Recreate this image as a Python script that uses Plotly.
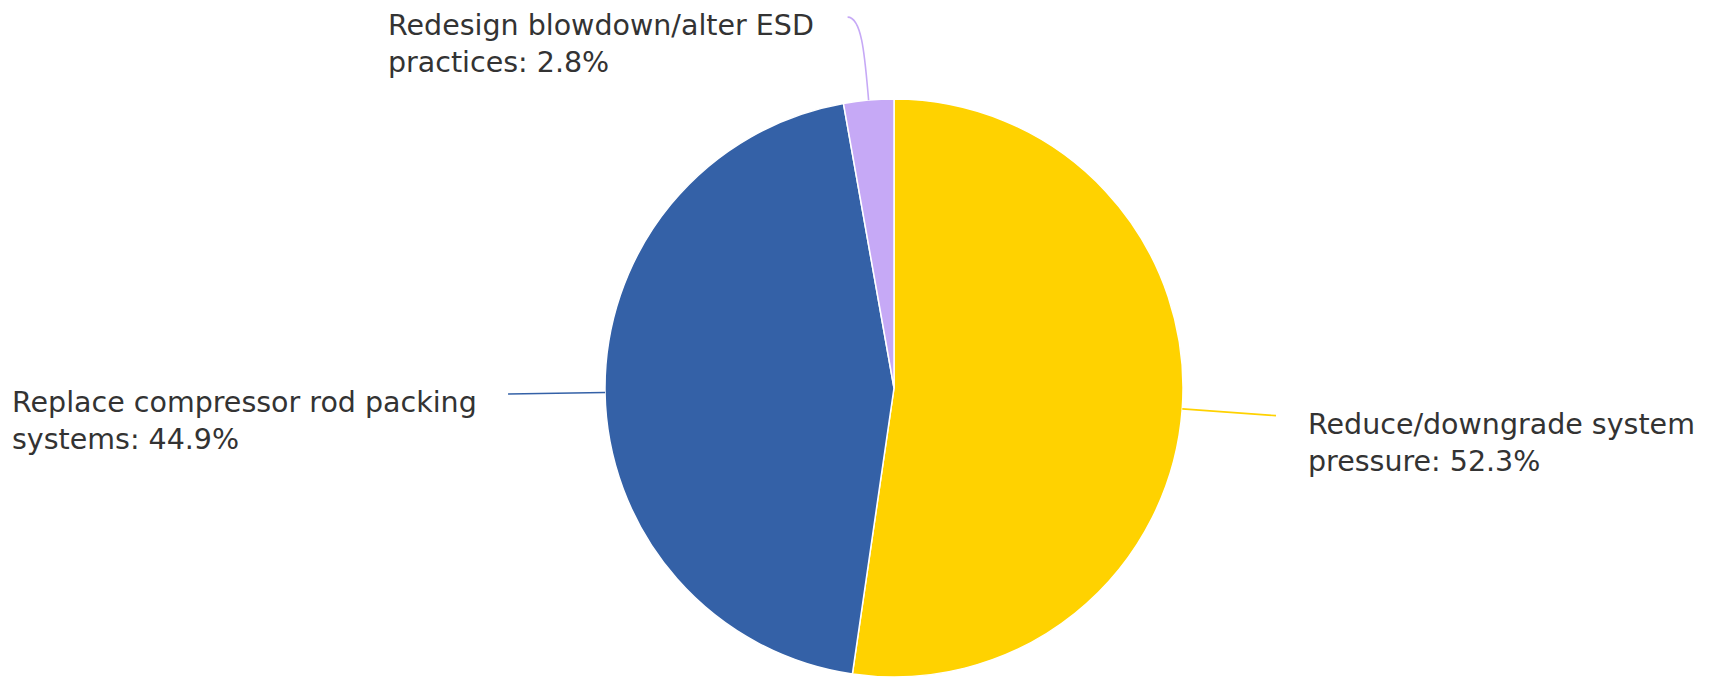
import math
import plotly.graph_objects as go

# ---- data ----
categories_line1 = ["Reduce/downgrade system", "Replace compressor rod packing", "Redesign blowdown/alter ESD"]
categories_line2 = ["pressure", "systems", "practices"]
values = [52.3, 44.9, 2.8]
colors = ["#FFD200", "#3461A7", "#C6A9F6"]

# ---- geometry / style ----
W, H = 1710, 678
CX, CY, R = 894, 388, 289
FONT = dict(family="DejaVu Sans", size=28.5, color="#333333")

def px(x):
    return x / W

def py(y):
    return 1 - y / H

fig = go.Figure(go.Pie(
    values=values,
    labels=[a + " " + b for a, b in zip(categories_line1, categories_line2)],
    marker=dict(colors=colors, line=dict(color="white", width=1.5)),
    sort=False,
    direction="clockwise",
    rotation=0,
    textinfo="none",
    hoverinfo="label+percent",
    domain=dict(x=[(CX - R) / W, (CX + R) / W], y=[py(CY + R), py(CY - R)]),
    showlegend=False,
))

# label placement style: connector extension and label gap per slice
label_style = [
    dict(mode="radial", ext=94, gap=30),
    dict(mode="radial", ext=97, gap=29),
    dict(mode="curve", end_dx=-21, end_dy=-83, gap=32),
]

total = sum(values)
cum = 0.0
shapes = []
annotations = []
for l1, l2, v, c, st in zip(categories_line1, categories_line2, values, colors, label_style):
    mid = (cum + v / 2) / total
    cum += v
    th = 2 * math.pi * mid
    sx, sy = math.sin(th), -math.cos(th)
    ex, ey = CX + R * sx, CY + R * sy
    if st["mode"] == "radial":
        tx, ty = CX + (R + st["ext"]) * sx, CY + (R + st["ext"]) * sy
        shapes.append(dict(type="line", xref="paper", yref="paper",
                           x0=px(ex), y0=py(ey), x1=px(tx), y1=py(ty),
                           line=dict(color=c, width=1.6)))
    else:
        tx, ty = ex + st["end_dx"], ey + st["end_dy"]
        c1x, c1y = tx + 0.7 * (ex - tx), ty
        d = ey - ty
        c2x, c2y = ex + 0.5 * d * sx, ey + 0.5 * d * sy
        path = "M {} {} C {} {}, {} {}, {} {}".format(
            px(tx), py(ty), px(c1x), py(c1y), px(c2x), py(c2y), px(ex), py(ey))
        shapes.append(dict(type="path", xref="paper", yref="paper", path=path,
                           line=dict(color=c, width=1.6)))
    right_side = sx > 0 and st["mode"] == "radial"
    ax = tx + st["gap"] if right_side else tx - st["gap"]
    annotations.append(dict(
        text="{}<br>{}: {:.1f}%".format(l1, l2, v),
        xref="paper", yref="paper",
        x=px(ax), y=py(ty - 10),
        xanchor="left" if right_side else "right",
        yanchor="top", align="left", showarrow=False,
        font=FONT,
    ))

fig.update_layout(
    width=W, height=H,
    margin=dict(l=0, r=0, t=0, b=0),
    paper_bgcolor="white",
    plot_bgcolor="white",
    shapes=shapes,
    annotations=annotations,
)

fig.write_html("out.html", config={"displayModeBar": False},
               post_script="document.body.style.margin='0px';")
